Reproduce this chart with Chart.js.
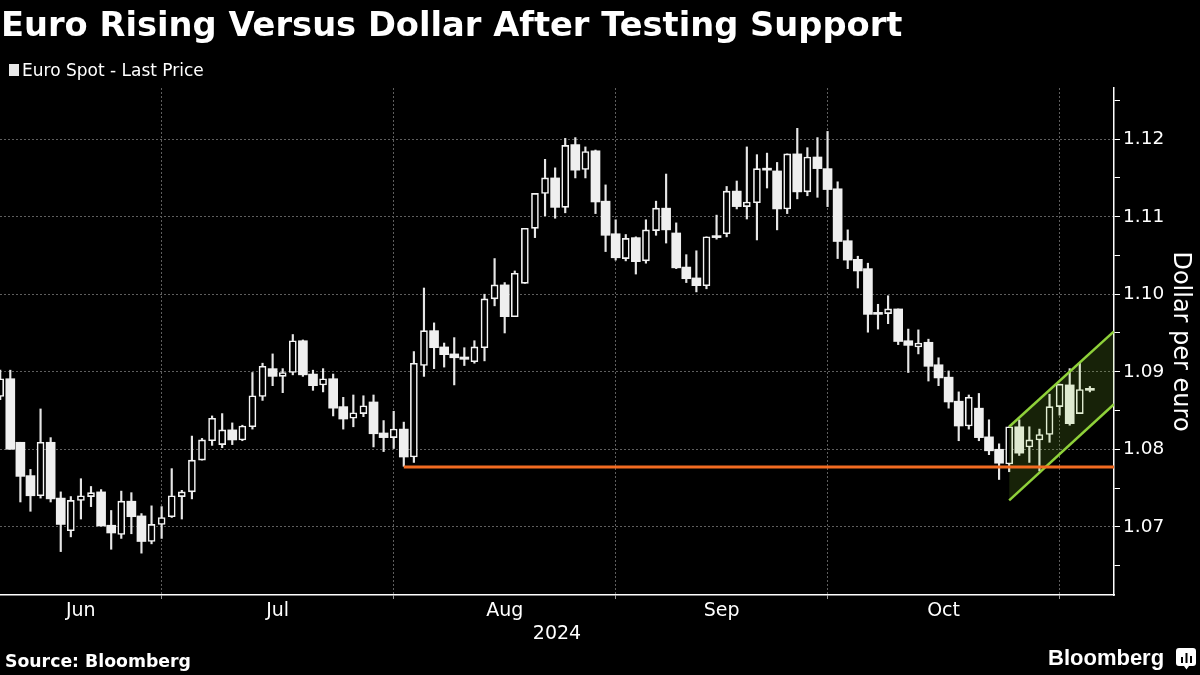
<!DOCTYPE html>
<html>
<head>
<meta charset="utf-8">
<script src="https://cdn.jsdelivr.net/npm/chart.js@4.4.1/dist/chart.umd.min.js"></script>
<style>
  html, body { margin: 0; padding: 0; background: #000; }
  #wrap { position: relative; width: 1200px; height: 675px; background: #000; overflow: hidden; }
  #c { position: absolute; left: 0; top: 0; }
  .t { position: absolute; color: #fff; white-space: nowrap; line-height: normal; }
  #title { left: 1px; top: 5px; font: bold 33.7px 'DejaVu Sans'; }
  #legend { left: 22px; top: 60px; font: 17px 'DejaVu Sans'; }
  #sw { position: absolute; left: 9px; top: 64px; width: 10px; height: 12px; background: #e8e8e8; }
  #source { left: 5px; top: 651px; font: bold 17.3px 'DejaVu Sans'; }
  #logo { left: 1048px; top: 645px; font: bold 22px 'Liberation Sans'; }
  #icon { position: absolute; left: 1176px; top: 647px; }
</style>
</head>
<body>
<div id="wrap">
  <canvas id="c" width="1200" height="675"></canvas>
  <div id="title" class="t">Euro Rising Versus Dollar After Testing Support</div>
  <div id="sw"></div>
  <div id="legend" class="t">Euro Spot - Last Price</div>
  <div id="source" class="t">Source: Bloomberg</div>
  <div id="logo" class="t">Bloomberg</div>
  <svg id="icon" width="21" height="24" viewBox="0 0 21 24">
    <path d="M3 1 H17 Q20 1 20 4 V16 Q20 19 17 19 H13 L10.5 22.5 L8 19 H3 Q0 19 0 16 V4 Q0 1 3 1 Z" fill="#fff"/>
    <rect x="5" y="10" width="2" height="6" fill="#000"/>
    <rect x="9.5" y="6" width="2" height="10" fill="#000"/>
    <rect x="14" y="9" width="2" height="7" fill="#000"/>
  </svg>
</div>
<script>
// ---------------- DATA ----------------
const dates = [
  '2024-06-06','2024-06-07','2024-06-10','2024-06-11','2024-06-12','2024-06-13','2024-06-14','2024-06-17','2024-06-18','2024-06-19',
  '2024-06-20','2024-06-21','2024-06-24','2024-06-25','2024-06-26','2024-06-27','2024-06-28',
  '2024-07-01','2024-07-02','2024-07-03','2024-07-04','2024-07-05','2024-07-08','2024-07-09','2024-07-10','2024-07-11','2024-07-12',
  '2024-07-15','2024-07-16','2024-07-17','2024-07-18','2024-07-19','2024-07-22','2024-07-23','2024-07-24','2024-07-25','2024-07-26',
  '2024-07-29','2024-07-30','2024-07-31',
  '2024-08-01','2024-08-02','2024-08-05','2024-08-06','2024-08-07','2024-08-08','2024-08-09','2024-08-12','2024-08-13','2024-08-14',
  '2024-08-15','2024-08-16','2024-08-19','2024-08-20','2024-08-21','2024-08-22','2024-08-23','2024-08-26','2024-08-27','2024-08-28',
  '2024-08-29','2024-08-30',
  '2024-09-02','2024-09-03','2024-09-04','2024-09-05','2024-09-06','2024-09-09','2024-09-10','2024-09-11','2024-09-12','2024-09-13',
  '2024-09-16','2024-09-17','2024-09-18','2024-09-19','2024-09-20','2024-09-23','2024-09-24','2024-09-25','2024-09-26','2024-09-27',
  '2024-09-30',
  '2024-10-01','2024-10-02','2024-10-03','2024-10-04','2024-10-07','2024-10-08','2024-10-09','2024-10-10','2024-10-11','2024-10-14',
  '2024-10-15','2024-10-16','2024-10-17','2024-10-18','2024-10-21','2024-10-22','2024-10-23','2024-10-24','2024-10-25','2024-10-28',
  '2024-10-29','2024-10-30','2024-10-31',
  '2024-11-01','2024-11-04','2024-11-05'
];
const openPrices = [
  1.0868,1.0891,1.0809,1.0766,1.0740,1.0809,1.0737,1.0695,1.0734,1.0739,
  1.0745,1.0702,1.0690,1.0733,1.0714,1.0681,1.0703,1.0713,1.0739,1.0745,
  1.0786,1.0811,1.0806,1.0825,1.0812,1.0829,1.0868,1.0904,1.0894,1.0899,
  1.0940,1.0897,1.0883,1.0891,1.0855,1.0840,1.0846,1.0861,1.0821,1.0815,
  1.0826,1.0790,1.0908,1.0953,1.0932,1.0923,1.0919,1.0913,1.0931,1.0994,
  1.1012,1.0971,1.1014,1.1085,1.1130,1.1150,1.1112,1.1193,1.1161,1.1185,
  1.1120,1.1078,1.1046,1.1073,1.1043,1.1082,1.1111,1.1079,1.1035,1.1021,
  1.1011,1.1075,1.1078,1.1133,1.1113,1.1118,1.1162,1.1159,1.1110,1.1181,
  1.1132,1.1177,1.1162,1.1136,1.1069,1.1045,1.1033,1.0976,1.0975,1.0981,
  1.0940,1.0932,1.0938,1.0909,1.0893,1.0862,1.0830,1.0853,1.0816,1.0800,
  1.0781,1.0829,1.0803,1.0812,1.0819,1.0855,1.0883,1.0846,1.0878
];
const highPrices = [
  1.0902,1.0902,1.0809,1.0774,1.0852,1.0815,1.0745,1.0739,1.0762,1.0752,
  1.0748,1.0721,1.0746,1.0744,1.0717,1.0727,1.0726,1.0775,1.0747,1.0817,
  1.0814,1.0843,1.0846,1.0834,1.0831,1.0899,1.0911,1.0923,1.0904,1.0948,
  1.0941,1.0902,1.0904,1.0897,1.0867,1.0870,1.0869,1.0870,1.0837,1.0849,
  1.0835,1.0926,1.1008,1.0963,1.0937,1.0944,1.0931,1.0940,1.1000,1.1046,
  1.1015,1.1030,1.1085,1.1130,1.1174,1.1163,1.1201,1.1202,1.1190,1.1186,
  1.1141,1.1096,1.1077,1.1074,1.1096,1.1120,1.1155,1.1092,1.1051,1.1056,
  1.1074,1.1102,1.1139,1.1146,1.1190,1.1180,1.1182,1.1170,1.1181,1.1214,
  1.1189,1.1202,1.1210,1.1145,1.1083,1.1049,1.1040,1.0987,1.0998,1.0981,
  1.0955,1.0954,1.0942,1.0918,1.0901,1.0874,1.0870,1.0872,1.0838,1.0807,
  1.0829,1.0838,1.0829,1.0826,1.0871,1.0884,1.0904,1.0911,1.0881
];
const lowPrices = [
  1.0864,1.0800,1.0732,1.0720,1.0737,1.0732,1.0668,1.0687,1.0710,1.0726,
  1.0701,1.0671,1.0685,1.0691,1.0666,1.0678,1.0685,1.0712,1.0710,1.0736,
  1.0786,1.0805,1.0802,1.0806,1.0811,1.0826,1.0863,1.0882,1.0873,1.0896,
  1.0894,1.0876,1.0874,1.0843,1.0826,1.0829,1.0842,1.0803,1.0797,1.0801,
  1.0778,1.0783,1.0894,1.0904,1.0906,1.0883,1.0908,1.0911,1.0914,1.0985,
  1.0950,1.0971,1.1014,1.1073,1.1101,1.1098,1.1105,1.1150,1.1150,1.1104,
  1.1055,1.1044,1.1043,1.1026,1.1040,1.1076,1.1066,1.1033,1.1015,1.1003,
  1.1007,1.1071,1.1074,1.1110,1.1097,1.1070,1.1137,1.1083,1.1104,1.1123,
  1.1127,1.1125,1.1113,1.1046,1.1033,1.1008,1.0951,1.0955,1.0962,1.0935,
  1.0899,1.0923,1.0888,1.0882,1.0853,1.0811,1.0826,1.0811,1.0793,1.0761,
  1.0771,1.0792,1.0783,1.0772,1.0809,1.0844,1.0831,1.0846,1.0874
];
const closePrices = [
  1.0891,1.0800,1.0765,1.0740,1.0809,1.0736,1.0703,1.0734,1.0740,1.0744,
  1.0701,1.0692,1.0733,1.0713,1.0681,1.0703,1.0712,1.0740,1.0745,1.0786,
  1.0812,1.0840,1.0825,1.0812,1.0830,1.0869,1.0907,1.0894,1.0899,1.0940,
  1.0896,1.0882,1.0891,1.0853,1.0839,1.0847,1.0856,1.0820,1.0815,1.0826,
  1.0790,1.0911,1.0953,1.0931,1.0922,1.0918,1.0916,1.0932,1.0994,1.1012,
  1.0971,1.1027,1.1085,1.1130,1.1150,1.1112,1.1192,1.1160,1.1184,1.1119,
  1.1076,1.1047,1.1072,1.1042,1.1083,1.1111,1.1083,1.1034,1.1020,1.1011,
  1.1074,1.1073,1.1133,1.1113,1.1119,1.1162,1.1160,1.1110,1.1181,1.1132,
  1.1177,1.1162,1.1135,1.1068,1.1044,1.1030,1.0974,1.0974,1.0981,1.0939,
  1.0934,1.0937,1.0907,1.0892,1.0861,1.0830,1.0867,1.0815,1.0798,1.0782,
  1.0829,1.0795,1.0812,1.0819,1.0855,1.0884,1.0833,1.0877,1.0876
];
const monthLabels = ['Jun', 'Jul', 'Aug', 'Sep', 'Oct'];
const yearLabel = '2024';
const yTickValues = [1.065, 1.07, 1.075, 1.08, 1.085, 1.09, 1.095, 1.10, 1.105, 1.11, 1.115, 1.12, 1.125];
const yMin = 1.0612, yMax = 1.1266;
const supportLevel = 1.0777;
const supportStartDate = '2024-08-01';
const channelStartDate = '2024-10-24';
const channelUpper = [1.0829, 1.0952];   // start, right edge
const channelLower = [1.0734, 1.0858];
const yAxisTitle = 'Dollar per euro';

// ---------------- BUILD ----------------
const xMin = -0.02, xMax = 110.39;
const wicks = [], upBodies = [], downBodies = [];
dates.forEach((d, i) => {
  wicks.push({x: i, y: [lowPrices[i], highPrices[i]]});
  if (closePrices[i] > openPrices[i]) upBodies.push({x: i, y: [openPrices[i], closePrices[i]]});
  else downBodies.push({x: i, y: [closePrices[i], openPrices[i]]});
});
const boundaries = [];
for (let i = 0; i < dates.length - 1; i++) {
  if (dates[i].slice(5, 7) !== dates[i + 1].slice(5, 7)) boundaries.push(i);
}
const monthMids = {};
monthLabels.forEach((m, k) => {
  const left = k === 0 ? xMin : boundaries[k - 1];
  const right = boundaries[k];
  monthMids[((left + right) / 2).toFixed(3)] = m;
});
const boundarySet = new Set(boundaries);
const isBoundary = v => boundarySet.has(v);
const midLabel = v => monthMids[Number(v).toFixed(3)];
const isMajorY = v => Math.abs(v * 100 - Math.round(v * 100)) < 1e-6;

const supStart = dates.indexOf(supportStartDate);
const chStart = dates.indexOf(channelStartDate);

const GRID = '#5e5e5e';
const chart = new Chart(document.getElementById('c'), {
  type: 'bar',
  data: {
    datasets: [
      { type: 'line', label: 'support', data: [{x: supStart, y: supportLevel}, {x: xMax, y: supportLevel}],
        borderColor: '#f26b21', borderWidth: 3, pointRadius: 0, fill: false, order: 0 },
      { type: 'line', label: 'channelUpper', data: [{x: chStart, y: channelUpper[0]}, {x: xMax, y: channelUpper[1]}],
        borderColor: '#8fd13a', borderWidth: 2.5, pointRadius: 0, fill: false, order: 1 },
      { type: 'line', label: 'channelLower', data: [{x: chStart, y: channelLower[0]}, {x: xMax, y: channelLower[1]}],
        borderColor: '#8fd13a', borderWidth: 2.5, pointRadius: 0, fill: '-1',
        backgroundColor: 'rgba(140,210,50,0.16)', order: 1 },
      { label: 'down', data: downBodies, backgroundColor: '#efefef', borderWidth: 0,
        barThickness: 9, grouped: false, minBarLength: 2, order: 2 },
      { label: 'up', data: upBodies, backgroundColor: '#000', borderColor: '#f4f4f4', borderWidth: 1.6,
        borderSkipped: false, barThickness: 7, grouped: false, minBarLength: 3, order: 2 },
      { label: 'wick', data: wicks, backgroundColor: '#e6e6e6', borderWidth: 0,
        barThickness: 1.5, grouped: false, order: 3 }
    ]
  },
  options: {
    responsive: false,
    animation: false,
    events: [],
    layout: { padding: { top: 88, bottom: 30, left: 0, right: 0 } },
    plugins: { legend: { display: false }, tooltip: { enabled: false }, title: { display: false } },
    scales: {
      x: {
        type: 'linear', position: 'bottom', min: xMin, max: xMax, offset: false,
        afterBuildTicks: (scale) => {
          const vals = boundaries.concat(Object.keys(monthMids).map(Number)).sort((a, b) => a - b);
          scale.ticks = vals.map(v => ({value: v}));
        },
        afterFit: (scale) => { scale.height = 50; },
        grid: {
          offset: false, drawOnChartArea: true, lineWidth: 1,
          color: (ctx) => (ctx.tick && isBoundary(ctx.tick.value)) ? GRID : 'rgba(0,0,0,0)',
          tickColor: (ctx) => (ctx.tick && isBoundary(ctx.tick.value)) ? '#9a9a9a' : 'rgba(0,0,0,0)',
          tickLength: 4
        },
        border: { display: true, color: '#ffffff', width: 1.5, dash: [2, 2] },
        ticks: {
          autoSkip: false, maxRotation: 0, minRotation: 0, padding: 1, color: '#ffffff',
          font: { family: 'DejaVu Sans', size: 19 },
          callback: (v) => midLabel(v) || ''
        },
        title: { display: true, text: yearLabel, color: '#ffffff', padding: { top: 0, bottom: 0 },
          font: { family: 'DejaVu Sans', size: 19 } }
      },
      y: {
        type: 'linear', position: 'right', min: yMin, max: yMax,
        afterBuildTicks: (scale) => { scale.ticks = yTickValues.map(v => ({value: v})); },
        afterFit: (scale) => { scale.width = 86; },
        grid: {
          lineWidth: 1,
          color: (ctx) => (ctx.tick && isMajorY(ctx.tick.value)) ? GRID : 'rgba(0,0,0,0)',
          tickColor: '#ffffff', tickLength: 6
        },
        border: { display: true, color: '#ffffff', width: 1.5, dash: [2, 2] },
        ticks: {
          autoSkip: false, padding: 3, color: '#ffffff',
          font: { family: 'DejaVu Sans', size: 18.5 },
          callback: (v) => isMajorY(v) ? v.toFixed(2) : ''
        },
        title: { display: true, text: yAxisTitle, color: '#ffffff', padding: { top: 5, bottom: 0 },
          font: { family: 'DejaVu Sans', size: 24 } }
      }
    }
  }
});
</script>
</body>
</html>
